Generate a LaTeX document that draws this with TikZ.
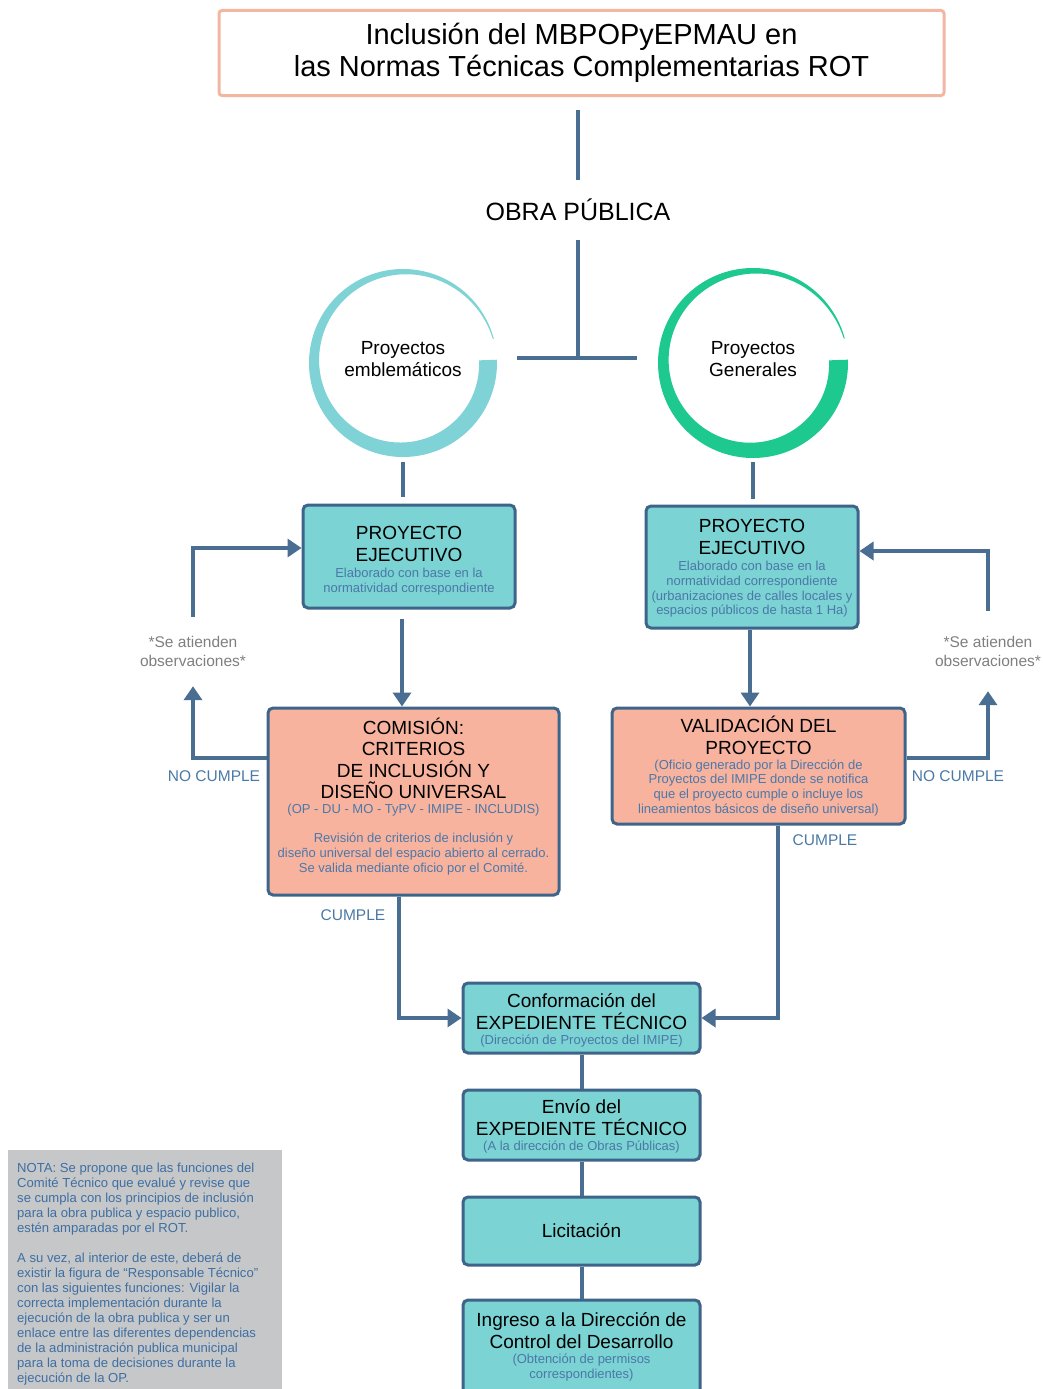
\documentclass[tikz,border=0pt]{standalone}
\usepackage{fontspec}
\setmainfont{Liberation Sans}
\usetikzlibrary{arrows.meta}
\setlength{\parindent}{0pt}

\definecolor{flowline}{HTML}{4A6D92}
\definecolor{boxline}{HTML}{3F648A}
\definecolor{tealfill}{HTML}{7BD3D3}
\definecolor{salmonfill}{HTML}{F8B39F}
\definecolor{subtxt}{HTML}{4B78A8}
\definecolor{obsgray}{HTML}{7F7F7F}
\definecolor{verdict}{HTML}{4A79A6}
\definecolor{notefill}{HTML}{C6C7C9}
\definecolor{notetxt}{HTML}{3E6FA3}
\definecolor{titleline}{HTML}{F2B7A3}
\definecolor{ringlight}{HTML}{7FD3D6}
\definecolor{ringgreen}{HTML}{1DC98F}

\newcommand\bxtitle{\fontsize{19}{22}\selectfont\color{black}}
\newcommand\bxsub{\fontsize{13}{14.7}\selectfont\color{subtxt}}
% closing glue that moves a box's text block up (positive) or down (negative)
\newcommand\txtlift[1]{\par\vskip#1\kern0pt}

\tikzset{
  flow/.style={draw=flowline, line width=4pt},
  arr/.style={flow, -{Triangle[width=18pt,length=14pt]}},
  tealbox/.style={draw=boxline, line width=3pt, rounded corners=5pt,
    fill=tealfill, align=flush center, inner sep=0pt, font=\bxtitle},
  salmonbox/.style={tealbox, fill=salmonfill},
  titlebox/.style={draw=titleline, line width=3pt, rounded corners=3pt,
    fill=white, align=center, inner sep=0pt,
    font=\fontsize{29}{32}\selectfont},
  ringtext/.style={circle, minimum size=188pt, inner sep=0pt, align=center,
    font=\fontsize{19}{22}\selectfont},
  obsnote/.style={align=center, inner sep=0pt, text=obsgray,
    font=\fontsize{15.5}{19}\selectfont},
  verdictlbl/.style={inner sep=0pt, text=verdict,
    font=\fontsize{15.5}{18}\selectfont},
  notebox/.style={fill=notefill, text=notetxt, align=flush left, text width=256pt,
    inner xsep=9pt, inner ysep=13pt, font=\fontsize{13.1}{15}\selectfont}
}

\begin{document}
\begin{tikzpicture}[x=1pt, y=-1pt]
\useasboundingbox (0,0) rectangle (1042,1389);

% title and public works branch
\node[titlebox, minimum width=725pt, minimum height=85pt] (top) at (581.5,53)
  {Inclusión del MBPOPyEPMAU en\\las Normas Técnicas Complementarias ROT};
\node[inner sep=0pt, minimum height=60pt, font=\fontsize{25}{30}\selectfont]
  (obra) at (578,210) {OBRA PÚBLICA};
\coordinate (jn) at (578,358);
\coordinate (jl) at (517,358);
\coordinate (jr) at (637,358);
\draw[flow] ([yshift=-13pt]obra.north |- top.south) -- (obra.north);
\draw[flow] (obra.south) -- (jn);
\draw[flow] (jl) -- (jr);

% project type rings (labels sit slightly above the ring centre)
\node[ringtext, yshift=4pt] (c1) at (403,363) {Proyectos\\emblemáticos};
\node[ringtext, yshift=4pt] (c2) at (753,363) {Proyectos\\Generales};
\fill[ringlight, shift={([yshift=-4pt]c1.center)}]
  plot[domain=-2:345, samples=160] ({94*cos(\x)},{94*sin(\x)})
  -- plot[domain=345:-2, samples=160]
     ({(93-17*(1-((\x+2.5)/347.5)^1.2))*cos(\x)},{(93-17*(1-((\x+2.5)/347.5)^1.2))*sin(\x)})
  -- cycle;
\fill[ringgreen, shift={([yshift=-4pt]c2.center)}]
  plot[domain=-2:345, samples=160] ({95*cos(\x)},{95*sin(\x)})
  -- plot[domain=345:-2, samples=160]
     ({(94-18*(1-((\x+2.5)/347.5)^1.2))*cos(\x)},{(94-18*(1-((\x+2.5)/347.5)^1.2))*sin(\x)})
  -- cycle;

% process boxes
\node[tealbox, minimum width=212pt, minimum height=103pt, text width=208pt]
  (pe1) at (409,556.5)
  {PROYECTO\par EJECUTIVO\par\vskip1.5pt\bxsub Elaborado con base en la\par
   normatividad correspondiente\txtlift{-8pt}};
\node[tealbox, minimum width=212pt, minimum height=122pt, text width=208pt]
  (pe2) at (752,567)
  {PROYECTO\par EJECUTIVO\par\vskip1.5pt\bxsub Elaborado con base en la\par
   normatividad correspondiente\par (urbanizaciones de calles locales y\par
   espacios públicos de hasta 1 Ha)\txtlift{-3pt}};
\node[salmonbox, minimum width=291pt, minimum height=187pt, text width=287pt,
  font=\fontsize{19}{21.5}\selectfont]
  (com) at (413.5,801.5)
  {COMISIÓN:\par CRITERIOS\par DE INCLUSIÓN Y\par DISEÑO UNIVERSAL\par
   \bxsub (OP - DU - MO - TyPV - IMIPE - INCLUDIS)\par\vskip14.5pt
   Revisión de criterios de inclusión y\par
   diseño universal del espacio abierto al cerrado.\par
   Se valida mediante oficio por el Comité.\txtlift{10pt}};
\node[salmonbox, minimum width=293pt, minimum height=116pt, text width=289pt]
  (val) at (758.5,766)
  {VALIDACIÓN DEL\par PROYECTO\par
   \bxsub (Oficio generado por la Dirección de\par
   Proyectos del IMIPE donde se notifica\par
   que el proyecto cumple o incluye los\par
   lineamientos básicos de diseño universal)\par};
\node[tealbox, minimum width=237pt, minimum height=70pt, text width=233pt]
  (conf) at (581.5,1018)
  {Conformación del\par EXPEDIENTE TÉCNICO\par
   \bxsub (Dirección de Proyectos del IMIPE)\txtlift{-4pt}};
\node[tealbox, minimum width=237pt, minimum height=70pt, text width=233pt]
  (env) at (581.5,1125)
  {Envío del\par EXPEDIENTE TÉCNICO\par
   \bxsub (A la dirección de Obras Públicas)\txtlift{-2pt}};
\node[tealbox, minimum width=237pt, minimum height=68pt] (lic) at (581.5,1231)
  {Licitación};
\node[tealbox, minimum width=237pt, minimum height=96pt, text width=233pt]
  (ing) at (581.5,1348)
  {Ingreso a la Dirección de\par Control del Desarrollo\par
   \bxsub (Obtención de permisos\par correspondientes)\txtlift{2pt}};

% side notes and verdicts
\node[obsnote, minimum height=69pt] (obs1) at (193,651.5)
  {*Se atienden\\observaciones*};
\node[obsnote, minimum height=80pt] (obs2) at (988,651)
  {*Se atienden\\observaciones*};
\node[verdictlbl] (nc1) at (214,776) {NO CUMPLE};
\node[verdictlbl] (nc2) at (958,776) {NO CUMPLE};
\node[verdictlbl] (cu1) at (353,915) {CUMPLE};
\node[verdictlbl] (cu2) at (825,840) {CUMPLE};

% connectors
\draw[flow] ([yshift=-9pt]c1.south) -- ([yshift=7pt]c1.south |- pe1.north);
\draw[flow] ([yshift=-9pt]c2.south) -- ([yshift=6pt]c2.south |- pe2.north);
\draw[arr] ([xshift=-7pt,yshift=-9pt]pe1.south) -- ([xshift=-7pt]pe1.south |- com.north);
\draw[arr] ([xshift=-2pt]pe2.south) -- ([xshift=-2pt]pe2.south |- val.north);
\draw[arr] ([yshift=43.5pt]com.west) -| (obs1.south);
\draw[arr] (obs1.north) |- ([yshift=8.5pt]pe1.west);
\draw[arr] ([yshift=8pt]val.east) -| (obs2.south);
\draw[arr] (obs2.north) |- ([yshift=16pt]pe2.east);
\draw[arr] ([xshift=-14.5pt]com.south) |- (conf.west);
\draw[arr] ([xshift=19.5pt]val.south) |- (conf.east);
\draw[flow] (conf.south) -- (env.north);
\draw[flow] (env.south) -- (lic.north);
\draw[flow] (lic.south) -- (ing.north);

% note panel
\node[notebox, anchor=north west] (nota) at (8,1150)
  {NOTA: Se propone que las funciones del\par
   Comité Técnico que evalué y revise que\par
   se cumpla con los principios de inclusión\par
   para la obra publica y espacio publico,\par
   estén amparadas por el ROT.\par\vskip15pt
   A su vez, al interior de este, deberá de\par
   existir la figura de “Responsable Técnico”\par
   con las siguientes funciones: Vigilar la\par
   correcta implementación durante la\par
   ejecución de la obra publica y ser un\par
   enlace entre las diferentes dependencias\par
   de la administración publica municipal\par
   para la toma de decisiones durante la\par
   ejecución de la OP.\txtlift{12pt}};
\end{tikzpicture}
\end{document}
